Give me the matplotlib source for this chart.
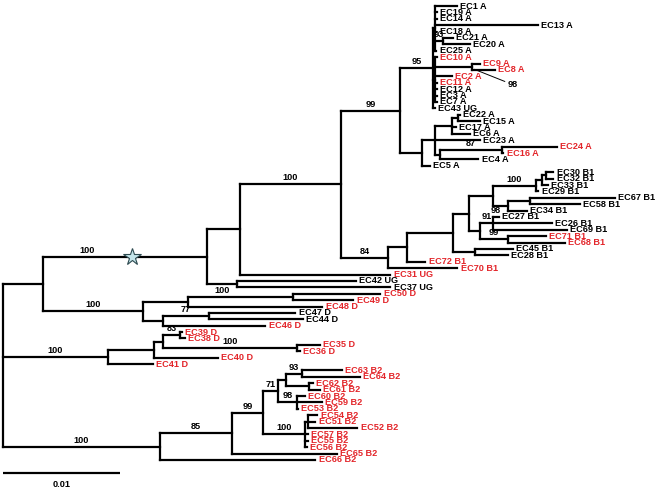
import matplotlib.pyplot as plt
from matplotlib.collections import LineCollection

# ===== Tree data (Newick, branch lengths in substitutions per site) =====
CLADE_A1 = ("((EC1 A:0.00188,EC19 A:0.00017,EC14 A:0.00017,EC13 A:0.00880,EC18 A:0.00009,"
            "(EC21 A:0.00085,EC20 A:0.00231):0.00068,EC25 A:0.00009):0.00017,"
            "(EC10 A:0.00017,(EC9 A:0.00068,EC8 A:0.00197):0.00316,EC2 A:0.00145,"
            "EC11 A:0.00017,EC12 A:0.00017,EC3 A:0.00017,EC7 A:0.00017):0.00017,"
            "EC43 UG:0.00017)")
CLADE_A2 = ("((((EC22 A:0.00017,EC15 A:0.00188):0.00051,EC17 A:0.00034,EC6 A:0.00154):0.00145,"
            "EC23 A:0.00385,((EC24 A:0.00470,EC16 A:0.00009):0.00530,EC4 A:0.00325):0.00043):0.00111,"
            "EC5 A:0.00068)")
CLADE_B1 = ("((((((((EC30 B1:0.00060,EC32 B1:0.00060):0.00034,EC33 B1:0.00051):0.00051,"
            "EC29 B1:0.00017):0.00368,((EC67 B1:0.00726,EC58 B1:0.00427):0.00188,"
            "EC34 B1:0.00162):0.00128):0.00205,((EC27 B1:0.00051,EC26 B1:0.00504,"
            "EC69 B1:0.00632):0.00111,(EC71 B1:0.00325,EC68 B1:0.00487):0.00239):0.00094):0.00137,"
            "(EC45 B1:0.00325,EC28 B1:0.00282):0.00188):0.00393,EC72 B1:0.00154):0.00162,"
            "EC70 B1:0.00590)")
CLADE_D1 = ("(((EC50 D:0.00744,EC49 D:0.00513):0.00897,EC48 D:0.01145):0.00385,"
            "((EC47 D:0.00735,EC44 D:0.00803):0.00393,EC46 D:0.00872):0.00171)")
CLADE_D2 = ("((((EC39 D:0.00017,EC38 D:0.00043):0.00145,(EC35 D:0.00197,EC36 D:0.00026):0.01145):0.00077,"
            "EC40 D:0.00547):0.00393,EC41 D:0.00385)")
CLADE_B2 = ("((((((EC63 B2:0.00342,EC64 B2:0.00496):0.00137,(EC62 B2:0.00034,EC61 B2:0.00094):0.00197):0.00068,"
            "(EC60 B2:0.00068,EC59 B2:0.00214,EC53 B2:0.00009):0.00162):0.00128,"
            "((EC54 B2:0.00077,EC51 B2:0.00060,EC52 B2:0.00419):0.00026,EC57 B2:0.00026,"
            "EC55 B2:0.00026,EC56 B2:0.00017):0.00359):0.00265,EC65 B2:0.00897):0.00615,"
            "EC66 B2:0.01325)")

TREE = ("((((((" + CLADE_A1 + ":0.00282," + CLADE_A2 + ":0.00188):0.00504," + CLADE_B1 + ":0.00402):0.00863,"
        "EC31 UG:0.01282):0.00282,(EC42 UG:0.01017,EC37 UG:0.01308):0.00256):0.01402,"
        + CLADE_D1 + ":0.00855):0.00342," + CLADE_D2 + ":0.00897," + CLADE_B2 + ":0.01342);")

# bootstrap support: (leaf, leaf, value) -> branch leading to their common ancestor
BOOTSTRAP = [
    ("EC1 A", "EC37 UG", 100), ("EC1 A", "EC70 B1", 100), ("EC1 A", "EC5 A", 99),
    ("EC1 A", "EC43 UG", 95), ("EC21 A", "EC20 A", 93), ("EC9 A", "EC8 A", 98),
    ("EC24 A", "EC16 A", 87), ("EC30 B1", "EC70 B1", 84), ("EC30 B1", "EC29 B1", 100),
    ("EC27 B1", "EC69 B1", 91), ("EC27 B1", "EC27 B1", 98), ("EC71 B1", "EC68 B1", 99),
    ("EC42 UG", "EC37 UG", 100), ("EC50 D", "EC46 D", 100), ("EC47 D", "EC44 D", 77),
    ("EC39 D", "EC41 D", 100), ("EC39 D", "EC38 D", 83), ("EC35 D", "EC36 D", 100),
    ("EC63 B2", "EC66 B2", 100), ("EC63 B2", "EC65 B2", 85), ("EC63 B2", "EC56 B2", 99),
    ("EC63 B2", "EC53 B2", 71), ("EC63 B2", "EC64 B2", 93), ("EC60 B2", "EC53 B2", 98),
    ("EC54 B2", "EC56 B2", 100),
]

RED_LEAVES = ["EC10 A", "EC9 A", "EC8 A", "EC2 A", "EC11 A", "EC24 A", "EC16 A",
              "EC71 B1", "EC68 B1", "EC72 B1", "EC70 B1", "EC31 UG",
              "EC50 D", "EC49 D", "EC48 D", "EC46 D", "EC39 D", "EC38 D",
              "EC35 D", "EC36 D", "EC40 D", "EC41 D",
              "EC63 B2", "EC64 B2", "EC62 B2", "EC61 B2", "EC60 B2", "EC59 B2", "EC53 B2",
              "EC54 B2", "EC51 B2", "EC52 B2", "EC57 B2", "EC55 B2", "EC56 B2",
              "EC65 B2", "EC66 B2"]

STAR_CLADE = ("EC1 A", "EC37 UG")
SCALE_BAR = 0.01

RED = '#e3262b'


# ===== Newick parsing + layout =====
def parse_newick(s):
    pos = 0

    def node():
        nonlocal pos
        n = {"children": [], "name": "", "length": 0.0}
        if s[pos] == "(":
            pos += 1
            while True:
                n["children"].append(node())
                if s[pos] == ",":
                    pos += 1
                else:
                    break
            pos += 1
        start = pos
        while s[pos] not in ",():;":
            pos += 1
        n["name"] = s[start:pos].strip()
        if s[pos] == ":":
            pos += 1
            start = pos
            while s[pos] not in ",();":
                pos += 1
            n["length"] = float(s[start:pos])
        return n

    return node()


leaves = []


def layout(n, x0):
    n["x"] = x0 + n["length"]
    if not n["children"]:
        n["y"] = len(leaves)
        n["leafset"] = {n["name"]}
        leaves.append(n)
    else:
        n["leafset"] = set()
        for c in n["children"]:
            c["px"] = n["x"]
            layout(c, n["x"])
            n["leafset"] |= c["leafset"]
        n["y"] = (n["children"][0]["y"] + n["children"][-1]["y"]) / 2


def all_nodes(n):
    yield n
    for c in n["children"]:
        yield from all_nodes(c)


def mrca(root, a, b):
    best = root
    for n in all_nodes(root):
        if a in n["leafset"] and b in n["leafset"] and len(n["leafset"]) < len(best["leafset"]):
            best = n
    return best


root = parse_newick(TREE)
root["length"] = 0.0
layout(root, 0.0)

# ===== Drawing =====
fig = plt.figure(figsize=(6.56, 4.90), dpi=100)
ax = fig.add_axes([0, 0, 1, 1])
ax.set_xlim(-0.000256, 0.05581)
ax.set_ylim(75.7, -0.94)
ax.axis('off')

segs = []
for n in all_nodes(root):
    if n is not root:
        segs.append([(n["px"], n["y"]), (n["x"], n["y"])])
    if n["children"]:
        segs.append([(n["x"], n["children"][0]["y"]), (n["x"], n["children"][-1]["y"])])
ax.add_collection(LineCollection(segs, colors='black', linewidths=1.6, capstyle='projecting'))

font = dict(family='Liberation Sans', fontsize=6.6, fontweight='bold')

for lf in leaves:
    ax.annotate(lf["name"], (lf["x"], lf["y"]), xytext=(2.5, 0), textcoords='offset points',
                ha='left', va='center', color=RED if lf["name"] in RED_LEAVES else 'black', **font)

star_node = mrca(root, *STAR_CLADE)
star_x = star_node["px"] + 0.54 * (star_node["x"] - star_node["px"])
ax.plot(star_x, star_node["y"], marker='*', markersize=13, markerfacecolor='#c4e5ea',
        markeredgecolor='#2d4a50', markeredgewidth=0.8, zorder=5)

for a, b, val in BOOTSTRAP:
    n = mrca(root, a, b)
    x_end = star_x if n is star_node else n["x"]
    xm = (n["px"] + x_end) / 2
    if (a, b) == ("EC9 A", "EC8 A"):
        ax.annotate(str(val), (n["x"] + 0.0002, n["y"] + 0.4), xytext=(24, -11), textcoords='offset points',
                    ha='left', va='center', arrowprops=dict(arrowstyle='-', lw=0.7, color='black',
                                                            shrinkA=0, shrinkB=0), **font)
    elif (a, b) == ("EC42 UG", "EC37 UG"):
        ax.text(xm, n["y"] + 0.35, str(val), ha='center', va='top', **font)
    else:
        ax.text(xm, n["y"] - 0.3, str(val), ha='center', va='bottom', **font)

# scale bar
ax.plot([0, SCALE_BAR], [73.0, 73.0], color='black', lw=1.6, solid_capstyle='butt')
ax.text(SCALE_BAR / 2, 74.9, str(SCALE_BAR), ha='center', va='center', **font)

fig.savefig('out.png', dpi=100)
